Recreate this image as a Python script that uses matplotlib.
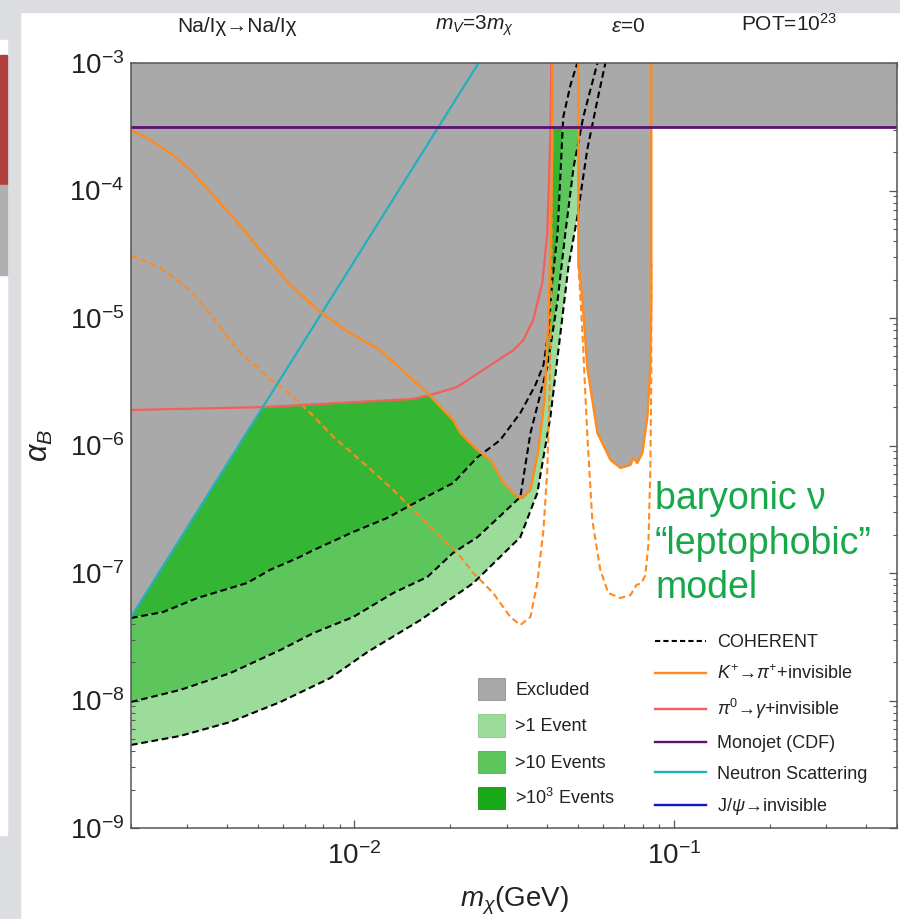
import matplotlib
matplotlib.use("Agg")
import matplotlib.pyplot as plt
from matplotlib.patches import Patch, Rectangle
from matplotlib.lines import Line2D
from matplotlib.ticker import NullFormatter, FixedLocator

plt.rcParams["font.family"] = ["Liberation Sans", "DejaVu Sans"]
plt.rcParams["mathtext.fontset"] = "custom"
plt.rcParams["mathtext.rm"] = "Liberation Sans"
plt.rcParams["mathtext.it"] = "Liberation Sans:italic"
plt.rcParams["mathtext.bf"] = "Liberation Sans:bold"

# ---- data (m_chi in GeV, alpha_B) ----
monojet_a = 3.15e-4

neutron_m = [0.002, 0.0245]
neutron_a = [4.5e-8, 1.0e-3]

pi0_m = [0.002, 0.00519, 0.0153, 0.0182, 0.0210, 0.0315, 0.0338, 0.0363,
         0.0388, 0.0402, 0.0411, 0.0414]
pi0_a = [1.9e-6, 2.0e-6, 2.32e-6, 2.58e-6, 2.88e-6, 5.6e-6, 6.7e-6, 9.6e-6,
         1.9e-5, 4.6e-5, 2.8e-4, 1.0e-3]

kplus_left_m = [0.002, 0.0023, 0.00265, 0.00307, 0.00354, 0.00424, 0.00508,
                0.00631, 0.00782, 0.00972, 0.01205, 0.01693, 0.0204, 0.0215,
                0.0243, 0.0267, 0.0293, 0.0324, 0.0336, 0.0356, 0.0377,
                0.0394, 0.0405, 0.0411, 0.0417, 0.0417]
kplus_left_a = [2.99e-4, 2.49e-4, 1.97e-4, 1.45e-4, 9.7e-5, 5.9e-5, 3.41e-5,
                1.82e-5, 1.11e-5, 7.6e-6, 5.6e-6, 2.58e-6, 1.58e-6, 1.25e-6,
                9.2e-7, 7.7e-7, 5.08e-7, 3.95e-7, 3.88e-7, 4.48e-7, 9.2e-7,
                2.28e-6, 9.6e-6, 3.41e-5, 2.08e-4, 1.0e-3]

kplus_right_m = [0.0503, 0.0503, 0.0518, 0.0536, 0.0577, 0.0634, 0.0681,
                 0.0732, 0.0747, 0.0769, 0.0798, 0.0827, 0.0845, 0.0851, 0.0851]
kplus_right_a = [1.0e-3, 2.70e-5, 1.38e-5, 4.13e-6, 1.25e-6, 7.7e-7, 6.67e-7,
                 7.03e-7, 7.98e-7, 7.3e-7, 8.73e-7, 1.67e-6, 4.13e-6, 1.38e-5,
                 1.0e-3]

kproj_left_m = [0.002, 0.00247, 0.00307, 0.00367, 0.00431, 0.00535, 0.00645,
                0.00713, 0.0086, 0.01067, 0.01325, 0.0161, 0.0186, 0.0210,
                0.0236, 0.0272, 0.0308, 0.0331, 0.0356, 0.0374, 0.0391,
                0.0402, 0.0408, 0.0414, 0.0417]
kproj_left_a = [3.12e-5, 2.47e-5, 1.66e-5, 9.6e-6, 5.6e-6, 3.44e-6, 2.40e-6,
                1.90e-6, 1.17e-6, 7.3e-7, 4.48e-7, 2.75e-7, 1.91e-7, 1.44e-7,
                1.0e-7, 6.97e-8, 4.52e-8, 3.91e-8, 4.52e-8, 8.35e-8, 2.17e-7,
                6.43e-7, 2.28e-6, 1.38e-5, 1.0e-3]

kproj_right_m = [0.0503, 0.0518, 0.0536, 0.0556, 0.0589, 0.0624, 0.0681,
                 0.0732, 0.0764, 0.0792, 0.0815, 0.0833, 0.0845, 0.0851, 0.0851]
kproj_right_a = [2.70e-5, 7.6e-6, 1.25e-6, 2.61e-7, 1.06e-7, 6.97e-8, 6.37e-8,
                 6.71e-8, 8.05e-8, 8.35e-8, 9.6e-8, 1.66e-7, 6.43e-7, 3.91e-6,
                 2.70e-5]

# COHERENT event contours: >10^3, >10, >1
coh1000_m = [0.002, 0.00252, 0.00323, 0.00462, 0.00546, 0.00664, 0.00745,
             0.00993, 0.01267, 0.0161, 0.0204, 0.0243, 0.0286, 0.0331, 0.0369,
             0.0391, 0.0405, 0.0417, 0.0433, 0.0451, 0.0475, 0.0499]
coh1000_a = [4.44e-8, 4.94e-8, 6.37e-8, 8.35e-8, 1.06e-7, 1.31e-7, 1.51e-7,
             2.10e-7, 2.70e-7, 3.74e-7, 5.08e-7, 8.1e-7, 1.10e-6, 1.80e-6,
             2.98e-6, 4.28e-6, 7.6e-6, 1.99e-5, 4.65e-5, 3.77e-4, 6.7e-4, 1.0e-3]

coh10_m = [0.002, 0.00285, 0.00409, 0.00587, 0.00745, 0.00993, 0.01325,
           0.01693, 0.0204, 0.0243, 0.0293, 0.0331, 0.0356, 0.0402, 0.0433,
           0.0458, 0.0486, 0.0521, 0.0577]
coh10_a = [9.73e-9, 1.21e-8, 1.64e-8, 2.49e-8, 3.38e-8, 4.52e-8, 6.97e-8,
           9.31e-8, 1.44e-7, 1.91e-7, 2.96e-7, 3.95e-7, 1.25e-6, 4.13e-6,
           1.38e-5, 4.65e-5, 1.53e-4, 3.77e-4, 1.0e-3]

coh1_m = [0.002, 0.00285, 0.00409, 0.00587, 0.00841, 0.0110, 0.0161, 0.0236,
          0.0331, 0.0374, 0.0411, 0.0442, 0.0468, 0.0499, 0.0536, 0.0577,
          0.0611]
coh1_a = [4.48e-9, 5.27e-9, 6.78e-9, 9.73e-9, 1.50e-8, 2.40e-8, 4.27e-8,
          8.35e-8, 1.91e-7, 4.24e-7, 1.67e-6, 7.6e-6, 2.51e-5, 6.2e-5,
          2.08e-4, 5.13e-4, 1.0e-3]

XMIN, XMAX = 0.002, 0.5
YMIN, YMAX = 1e-9, 1e-3
x_major = [1e-2, 1e-1]
y_major = [1e-9, 1e-8, 1e-7, 1e-6, 1e-5, 1e-4, 1e-3]

# ---- colours ----
c_gray = "#a9a9a9"
c_g1 = "#9bdc9b"
c_g10 = "#5cc65c"
c_g1000 = "#34b634"
c_orange = "#ff8a1e"
c_red = "#f2605c"
c_purple = "#5c1070"
c_cyan = "#22b0bd"
c_blue = "#1414c8"
c_text_green = "#17a84a"

W, H = 900, 919
fig = plt.figure(figsize=(W / 100, H / 100), dpi=100)


def fx(px):
    return px / W


def fy(py):
    return 1 - py / H


# screenshot frame
fig.patches.append(Rectangle((0, fy(12)), 1, 12 / H, transform=fig.transFigure,
                             color="#dcdde1", zorder=0))
fig.patches.append(Rectangle((0, 0), fx(20), 1, transform=fig.transFigure,
                             color="#dcdde1", zorder=0))
fig.patches.append(Rectangle((0, fy(835)), fx(7), 795 / H, transform=fig.transFigure,
                             color="white", zorder=0))
fig.patches.append(Rectangle((0, fy(185)), fx(7), 130 / H, transform=fig.transFigure,
                             color="#b04040", zorder=0))
fig.patches.append(Rectangle((0, fy(275)), fx(7), 90 / H, transform=fig.transFigure,
                             color="#b0b0b0", zorder=0))

ax = fig.add_axes([fx(131), fy(828), fx(897) - fx(131), fy(63) - fy(828)])
ax.set_xscale("log")
ax.set_yscale("log")

# event regions
ax.fill(coh1000_m + [XMIN], coh1000_a + [YMAX], color=c_g1000, lw=0, zorder=1)
ax.fill(coh1000_m + coh10_m[::-1], coh1000_a + coh10_a[::-1], color=c_g10, lw=0, zorder=1)
ax.fill(coh10_m + coh1_m[::-1], coh10_a + coh1_a[::-1], color=c_g1, lw=0, zorder=1)

# excluded regions
ax.axhspan(monojet_a, YMAX, color=c_gray, lw=0, zorder=2)
ax.fill_between(neutron_m + [XMIN], neutron_a + [YMAX], YMAX, color=c_gray, lw=0, zorder=2)
ax.fill_between(pi0_m, pi0_a, YMAX, color=c_gray, lw=0, zorder=2)
ax.fill_between(kplus_left_m, kplus_left_a, YMAX, color=c_gray, lw=0, zorder=2)
ax.fill_between(kplus_right_m, kplus_right_a, YMAX, color=c_gray, lw=0, zorder=2)

dash = (0, (3.2, 1.8))
for m, a in [(coh1000_m, coh1000_a), (coh10_m, coh10_a), (coh1_m, coh1_a)]:
    ax.plot(m, a, color="black", lw=1.5, ls=dash, zorder=4)

ax.plot(kproj_left_m, kproj_left_a, color=c_orange, lw=1.5, ls=dash, zorder=4)
ax.plot(kproj_right_m, kproj_right_a, color=c_orange, lw=1.5, ls=dash, zorder=4)
ax.plot(pi0_m, pi0_a, color=c_red, lw=1.6, zorder=5)
ax.plot(neutron_m, neutron_a, color=c_cyan, lw=1.6, zorder=5)
ax.plot(kplus_left_m, kplus_left_a, color=c_orange, lw=1.7, zorder=6)
ax.plot(kplus_right_m, kplus_right_a, color=c_orange, lw=1.7, zorder=6)
ax.axhline(monojet_a, color=c_purple, lw=2.0, zorder=7)

ax.set_xlim(XMIN, XMAX)
ax.set_ylim(YMIN, YMAX)

# ticks only inside the visible range
x_minor = [k * d for d in (1e-3, 1e-2, 1e-1) for k in range(2, 10)
           if XMIN <= k * d <= XMAX and k * d not in x_major]
y_minor = [k * d for d in y_major[:-1] for k in range(2, 10)]
ax.xaxis.set_major_locator(FixedLocator(x_major))
ax.xaxis.set_minor_locator(FixedLocator(x_minor))
ax.yaxis.set_major_locator(FixedLocator(y_major))
ax.yaxis.set_minor_locator(FixedLocator(y_minor))
ax.xaxis.set_minor_formatter(NullFormatter())
ax.yaxis.set_minor_formatter(NullFormatter())

for s in ax.spines.values():
    s.set_color("#555555")
    s.set_linewidth(1.1)
    s.set_zorder(8)
ax.tick_params(which="both", direction="in", top=True, right=True, colors="#555555",
               labelcolor="#222222")
ax.tick_params(which="major", length=6, width=0.9, labelsize=20)
ax.tick_params(which="minor", length=3, width=0.8)
ax.tick_params(axis="x", which="major", pad=10)
ax.tick_params(axis="y", which="major", pad=5)

ax.set_xlabel(r"$m_{\chi}$(GeV)", fontsize=20, color="#222222", labelpad=11)
ax.set_ylabel(r"$\alpha_B$", fontsize=22, color="#222222", labelpad=10)

# top labels
top_kw = dict(fontsize=15, color="#222222", ha="center", va="center")
fig.text(fx(237), fy(26), "Na/Iχ→Na/Iχ", **top_kw)
fig.text(fx(475), fy(26), r"$m_V$=3$m_{\chi}$", **top_kw)
fig.text(fx(628), fy(26), r"$\epsilon$=0", **top_kw)
fig.text(fx(789), fy(24), r"POT=10$^{23}$", **top_kw)

# model annotation
for txt, yb in [("baryonic ν", 509), ("“leptophobic”", 554), ("model", 598)]:
    fig.text(fx(655), fy(yb), txt, fontsize=27, color=c_text_green, ha="left",
             va="baseline")

# legends
fill_handles = [Patch(facecolor=c_gray, edgecolor="#909090", lw=0.6),
                Patch(facecolor=c_g1, edgecolor="#88c888", lw=0.6),
                Patch(facecolor=c_g10, edgecolor="#50b050", lw=0.6),
                Patch(facecolor="#18a818", edgecolor="#109010", lw=0.6)]
fill_labels = ["Excluded", ">1 Event", ">10 Events", r">10$^3$ Events"]
leg1 = ax.legend(fill_handles, fill_labels, loc="upper left",
                 bbox_to_anchor=((478 - 131) / 766, (828 - 678) / 765),
                 frameon=False, fontsize=13, handlelength=1.5, handleheight=1.5,
                 handletextpad=0.55, labelspacing=0.8, borderpad=0, borderaxespad=0)
for t in leg1.get_texts():
    t.set_color("#222222")
ax.add_artist(leg1)

line_handles = [Line2D([], [], color="black", lw=1.5, ls=(0, (2.5, 1.5))),
                Line2D([], [], color=c_orange, lw=1.7),
                Line2D([], [], color=c_red, lw=1.7),
                Line2D([], [], color=c_purple, lw=1.7),
                Line2D([], [], color=c_cyan, lw=1.7),
                Line2D([], [], color=c_blue, lw=1.7)]
line_labels = ["COHERENT", r"$K^{+}$→$\pi^{+}$+invisible", r"$\pi^{0}$→$\gamma$+invisible",
               "Monojet (CDF)", "Neutron Scattering", r"J/$\psi$→invisible"]
leg2 = ax.legend(line_handles, line_labels, loc="upper left",
                 bbox_to_anchor=((655 - 131) / 766, (828 - 634) / 765),
                 frameon=False, fontsize=13, handlelength=2.8, handletextpad=0.65,
                 labelspacing=0.76, borderpad=0, borderaxespad=0)
for t in leg2.get_texts():
    t.set_color("#222222")

fig.savefig("out.png", dpi=100)
